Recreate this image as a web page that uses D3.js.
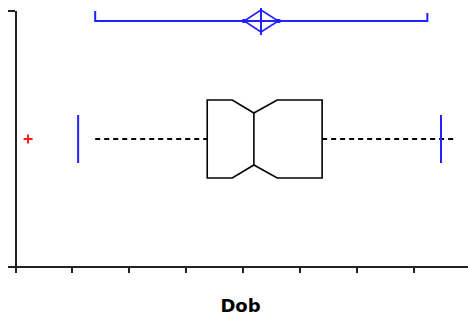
<!DOCTYPE html>
<meta charset="utf-8">
<style>
body { margin: 0; background: white; }
.axis path, .axis line { stroke: #222; stroke-width: 2px; shape-rendering: crispEdges; }
</style>
<script src="https://cdn.jsdelivr.net/npm/d3@7/dist/d3.min.js"></script>
<body>
<script>
// values (x units, axis ticks every 10)
const category = 'Dob';
const xTicks = [0, 10, 20, 30, 40, 50, 60, 70, 80];
const quartiles = [33.8, 42.0, 54.0];     // Q1, median, Q3
const notch = [38.2, 46.1];               // median CI
const whiskers = [14.1, 77.7];            // dashed whisker ends
const percentiles = [11.1, 74.9];         // blue vertical bars
const outliers = [2.3];
const meanCI = [40.3, 43.25, 46.3];       // low, mean, high
const bracket = [14.1, 72.5];

const width = 468, height = 320;

const svg = d3.select('body')
  .append('svg')
    .attr('width', width)
    .attr('height', height);

const x = d3.scaleLinear()
  .domain([0, 80])
  .range([15, 470]);

const y = d3.scaleLinear()
  .domain([0, 1])
  .range([266, 10]);

svg.append('g')
    .attr('class', 'axis')
    .attr('transform', `translate(0, ${y(0)})`)
  .call(d3.axisBottom(x).tickValues(xTicks).tickSize(7).tickSizeOuter(0).tickFormat(''));

svg.append('g')
    .attr('class', 'axis')
    .attr('transform', `translate(${x(0)}, 0)`)
  .call(d3.axisLeft(y).tickValues([0, 1]).tickSize(7).tickSizeOuter(0).tickFormat(''));

const cy = y(0.496);
const boxH = 39;
const notchIn = 13;

// dashed whiskers
svg.append('line')
    .attr('x1', x(whiskers[0])).attr('x2', x(quartiles[0]))
    .attr('y1', cy).attr('y2', cy)
    .attr('stroke', 'black').attr('stroke-width', 2)
    .attr('stroke-dasharray', '5,4');
svg.append('line')
    .attr('x1', x(quartiles[2])).attr('x2', x(whiskers[1]))
    .attr('y1', cy).attr('y2', cy)
    .attr('stroke', 'black').attr('stroke-width', 2)
    .attr('stroke-dasharray', '5,4');

// notched box
const pts = [
  [x(quartiles[0]), cy - boxH],
  [x(notch[0]), cy - boxH],
  [x(quartiles[1]), cy - boxH + notchIn],
  [x(notch[1]), cy - boxH],
  [x(quartiles[2]), cy - boxH],
  [x(quartiles[2]), cy + boxH],
  [x(notch[1]), cy + boxH],
  [x(quartiles[1]), cy + boxH - notchIn],
  [x(notch[0]), cy + boxH],
  [x(quartiles[0]), cy + boxH]
];
svg.append('path')
    .attr('d', d3.line()(pts) + 'Z')
    .attr('fill', 'white')
    .attr('stroke', 'black')
    .attr('stroke-width', 1.6);
svg.append('line')
    .attr('x1', x(quartiles[1])).attr('x2', x(quartiles[1]))
    .attr('y1', cy - boxH + notchIn).attr('y2', cy + boxH - notchIn)
    .attr('stroke', 'black').attr('stroke-width', 1.6);

// blue percentile bars
svg.selectAll('.pct')
  .data(percentiles)
  .enter()
  .append('line')
    .attr('x1', d => x(d)).attr('x2', d => x(d))
    .attr('y1', cy - 24).attr('y2', cy + 24)
    .attr('stroke', '#2222ff').attr('stroke-width', 2);

// outliers
outliers.forEach(d => {
  svg.append('path')
      .attr('d', `M${x(d) - 4.5},${cy}H${x(d) + 4.5}M${x(d)},${cy - 4.5}V${cy + 4.5}`)
      .attr('stroke', '#ff1a1a').attr('stroke-width', 2);
});

// top bracket + mean diamond
const by = y(0.957);
svg.append('path')
    .attr('d', `M${x(bracket[0])},${by - 10}V${by}H${x(bracket[1])}V${by - 8}`)
    .attr('fill', 'none')
    .attr('stroke', '#2222ff').attr('stroke-width', 2);
svg.append('path')
    .attr('d', `M${x(meanCI[0])},${by}L${x(meanCI[1])},${by - 11}L${x(meanCI[2])},${by}L${x(meanCI[1])},${by + 11}Z`)
    .attr('fill', 'none')
    .attr('stroke', '#2222ff').attr('stroke-width', 1.6);
svg.append('line')
    .attr('x1', x(meanCI[1])).attr('x2', x(meanCI[1]))
    .attr('y1', by - 13).attr('y2', by + 14)
    .attr('stroke', '#2222ff').attr('stroke-width', 2);
svg.selectAll('.ci')
  .data([meanCI[0], meanCI[2]])
  .enter()
  .append('rect')
    .attr('x', d => x(d) - 2).attr('y', by - 2)
    .attr('width', 4).attr('height', 4)
    .attr('fill', '#2222ff');

svg.append('text')
    .attr('x', 240.5)
    .attr('y', 312)
    .attr('text-anchor', 'middle')
    .style('font-family', 'DejaVu Sans')
    .style('font-weight', 'bold')
    .style('font-size', '18px')
    .text(category);
</script>
</body>
